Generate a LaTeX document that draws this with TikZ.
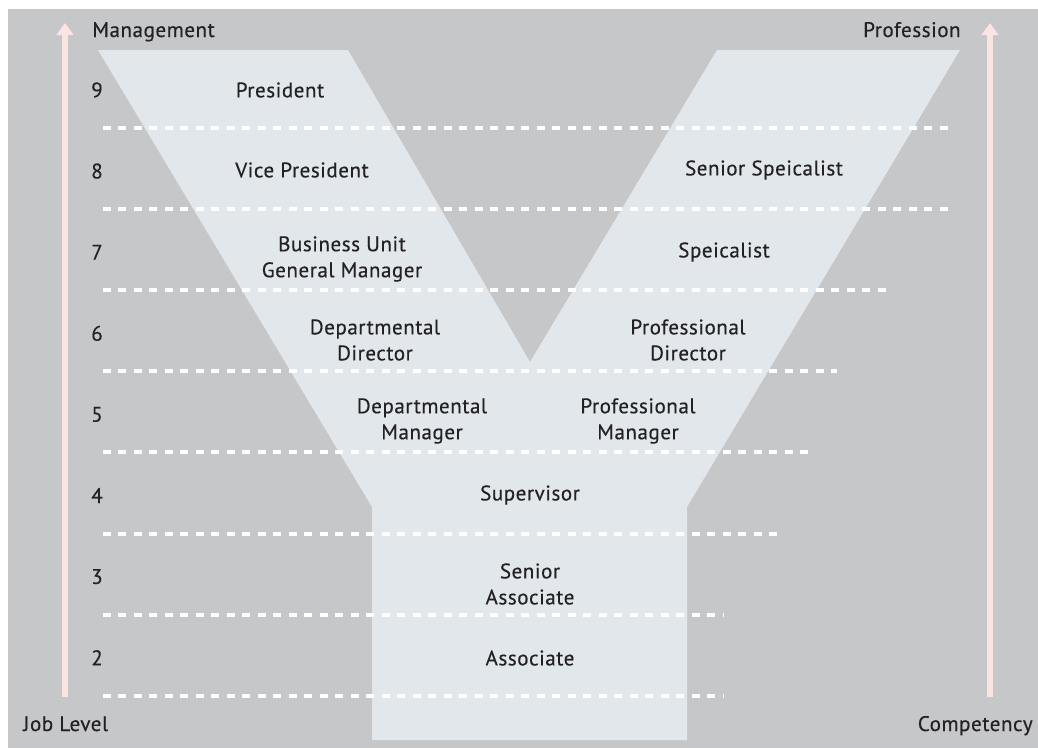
\documentclass[tikz,border=0pt]{standalone}
\usepackage{fontspec}
\setmainfont{PT Sans}
\newfontfamily\labelfont{PT Sans}[FakeBold=0.35,LetterSpace=2.5]
\usetikzlibrary{arrows.meta}
\definecolor{slate}{RGB}{198,199,201}
\definecolor{frost}{RGB}{226,231,235}
\definecolor{blush}{RGB}{251,229,227}
\definecolor{ink}{RGB}{35,33,36}
\tikzset{
  >={Triangle[length=2.4mm,width=3.3mm]},
  axis/.style={->,draw=blush,fill=blush,line width=1.2mm},
  rung/.style={draw=white,line width=0.62mm,dash pattern=on 1.6mm off 1.5mm},
  lvl/.style={font=\labelfont\fontsize{12}{14.8}\selectfont,text=ink,inner sep=0pt},
  post/.style={font=\labelfont\fontsize{12}{14.8}\selectfont,text=ink,align=center,inner sep=0pt},
  corner/.style={font=\labelfont\fontsize{12}{14.8}\selectfont,text=ink,inner sep=0pt},
}

\begin{document}
\begin{tikzpicture}[x=0.02cm,y=-0.02cm]
  \useasboundingbox (0,0) rectangle (1038,748);
  \fill[slate] (8,9) rectangle (1038,748);

  % the Y
  \fill[frost] (98,50) -- (348,50) -- (530,362) -- (717,50) -- (960,50)
    -- (687,507) -- (687,740) -- (372,740) -- (372,507) -- cycle;

  % level separators
  \foreach \y/\e in {128/953,209/948,290/886,371/837,452/815,534/782,615/724,696/724}
    \draw[rung] (103,\y) -- (\e,\y);

  % axes
  \coordinate (jl0) at (65,697);
  \coordinate (jl1) at (65,23);
  \coordinate (cp0) at (990,697);
  \coordinate (cp1) at (990,23);
  \draw[axis] (jl0) -- (jl1);
  \draw[axis] (cp0) -- (cp1);

  \node[corner,anchor=base west] (mgmt) at (92,37) {Management};
  \node[corner,anchor=base east] (prof) at (961,37) {Profession};
  \node[corner,anchor=base west] (joblevel) at (23,731) {Job Level};
  \node[corner,anchor=base east] (comp) at (1033,731) {Competency};

  % level numbers
  \foreach \n [count=\i] in {9,8,7,6,5,4,3,2}
    \node[lvl] (lvl\n) at (97,{90+81.1*(\i-1)}) {\n};

  % management branch
  \node[post] (pres) at (280,90) {President};
  \node[post] (vp) at (302,170) {Vice President};
  \node[post] (bugm) at (342,259) {Business Unit\\General Manager};
  \node[post] (ddir) at (375,340) {Departmental\\Director};
  \node[post] (dmgr) at (422,421) {Departmental\\Manager};

  % professional branch
  \node[post] (ssp) at (764,170) {Senior Speicalist};
  \node[post] (sp) at (724,252) {Speicalist};
  \node[post] (pdir) at (688,340) {Professional\\Director};
  \node[post] (pmgr) at (638,421) {Professional\\Manager};

  % common stem
  \node[post] (sup) at (530,495) {Supervisor};
  \node[post] (sassoc) at (530,584) {Senior\\Associate};
  \node[post] (assoc) at (530,658) {Associate};
\end{tikzpicture}
\end{document}
